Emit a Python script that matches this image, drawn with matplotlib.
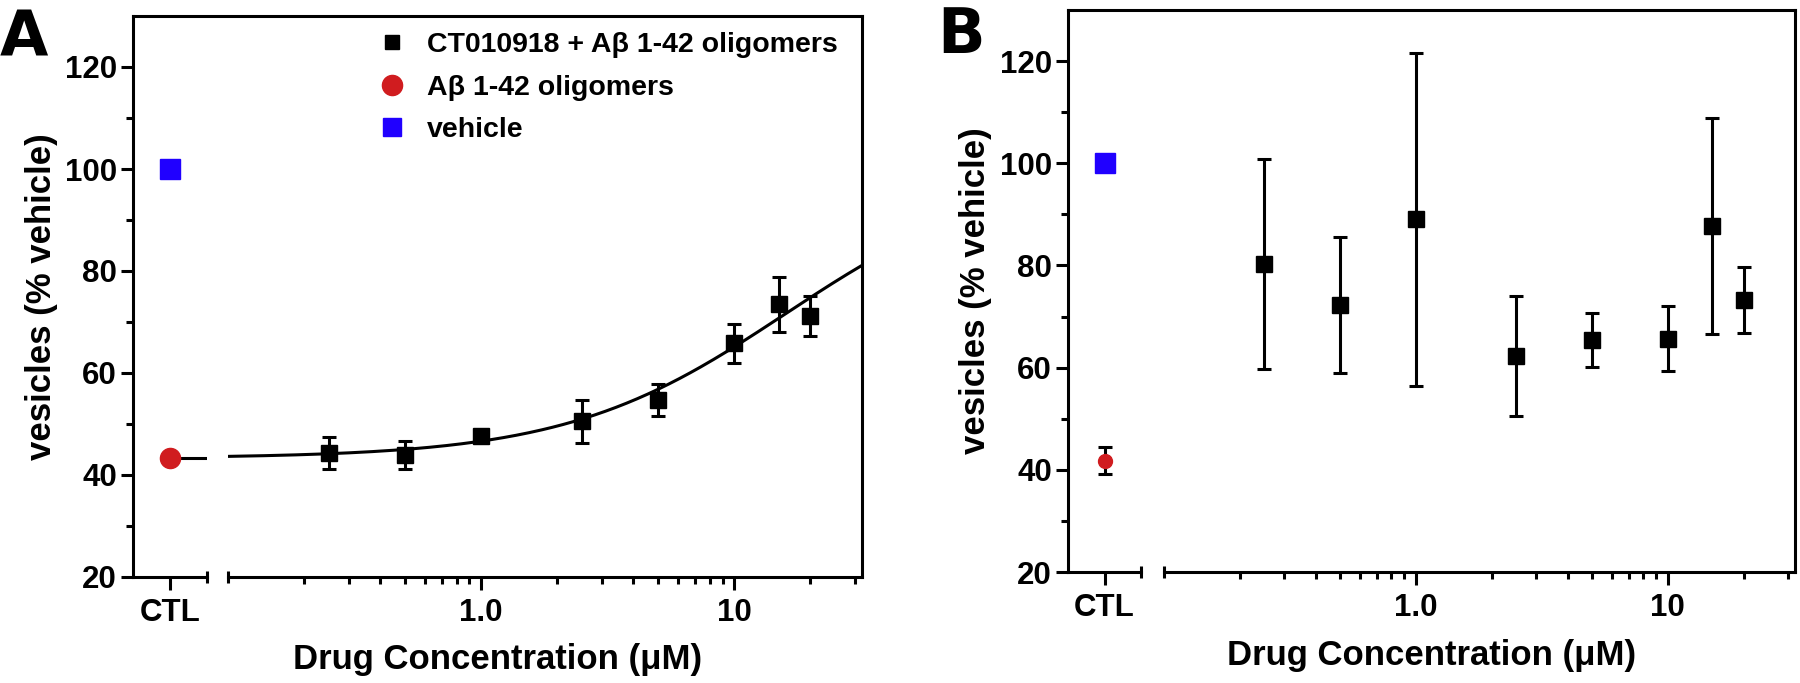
import matplotlib
matplotlib.use('Agg')
import matplotlib.pyplot as plt
from matplotlib.lines import Line2D
from matplotlib.ticker import FixedLocator, NullFormatter
import numpy as np

plt.rcParams['font.family'] = ['Liberation Sans', 'DejaVu Sans']
plt.rcParams['font.weight'] = 'bold'

W, H = 1800, 683

# ── data ────────────────────────────────────────────────────────────────────
conc = [0.25, 0.5, 1.0, 2.5, 5, 10, 15, 20]          # µM

a_mean = [44.3, 43.9, 47.6, 50.5, 54.7, 65.8, 73.5, 71.2]
a_err = [3.2, 2.7, 1.1, 4.3, 3.2, 3.8, 5.4, 3.9]
a_oligo = 43.3
a_vehicle = 100.0

b_mean = [80.3, 72.3, 89.0, 62.3, 65.4, 65.7, 87.7, 73.2]
b_err = [20.5, 13.3, 32.5, 11.7, 5.3, 6.4, 21.2, 6.5]
b_oligo, b_oligo_err = 41.8, 2.7
b_vehicle = 100.0

# sigmoidal dose-response fit drawn in panel A
fit_bottom, fit_top, fit_ec50, fit_hill = 43.3, 100.0, 16.0, 1.0

legend_labels = ['CT010918 + Aβ 1-42 oligomers', 'Aβ 1-42 oligomers', 'vehicle']
RED = '#d01c1f'
BLUE = '#2000ff'
LW = 2.2


def make_panel(fig, left, right, top, bottom, ctl_w, gap):
    """Broken x axis: small CTL segment + log segment, shared y frame."""
    fl, fb = left / W, 1 - bottom / H
    fw, fh = (right - left) / W, (bottom - top) / H
    ax_f = fig.add_axes([fl, fb, fw, fh])
    ax_c = fig.add_axes([fl, fb, ctl_w / W, fh], sharey=ax_f)
    ax_l = fig.add_axes([(left + ctl_w + gap) / W, fb,
                         (right - left - ctl_w - gap) / W, fh], sharey=ax_f)

    # frame axes: y axis + left/top/right spines
    ax_f.set_facecolor('none')
    ax_f.set_xticks([])
    ax_f.spines['bottom'].set_visible(False)
    for s in ('left', 'top', 'right'):
        ax_f.spines[s].set_linewidth(LW)
    ax_f.set_ylim(20, 130)
    ax_f.yaxis.set_major_locator(FixedLocator([20, 40, 60, 80, 100, 120]))
    ax_f.yaxis.set_minor_locator(FixedLocator([30, 50, 70, 90, 110]))
    ax_f.tick_params(axis='y', which='major', length=9, width=LW, labelsize=22.5, pad=2.5)
    ax_f.tick_params(axis='y', which='minor', length=5, width=LW)
    ax_f.set_ylabel('vesicles (% vehicle)', fontsize=25, fontweight='bold', va='center')
    ax_f.yaxis.set_label_coords(-92 / (right - left), 0.5)
    ax_f.set_xlabel('Drug Concentration (μM)', fontsize=25, fontweight='bold', va='center')
    ax_f.xaxis.set_label_coords(0.5, -83 / (bottom - top))

    for ax in (ax_c, ax_l):
        ax.set_facecolor('none')
        for s in ('left', 'top', 'right'):
            ax.spines[s].set_visible(False)
        ax.spines['bottom'].set_linewidth(LW)
        ax.tick_params(axis='y', which='both', left=False, labelleft=False)
        ax.tick_params(axis='x', which='major', length=9, width=LW, labelsize=22.5, pad=6)
        ax.tick_params(axis='x', which='minor', length=5, width=LW)

    ax_c.set_xlim(-1, 1)
    ax_c.set_xticks([0])
    ax_c.set_xticklabels(['CTL'])
    ax_c.plot([1], [0], transform=ax_c.transAxes, marker='|', ms=9, mew=LW,
              color='k', clip_on=False)

    ax_l.set_xscale('log')
    ax_l.set_xlim(0.1, 32)
    ax_l.xaxis.set_major_locator(FixedLocator([1, 10]))
    ax_l.set_xticklabels(['1.0', '10'])
    ax_l.xaxis.set_minor_locator(FixedLocator(
        [0.2, 0.3, 0.4, 0.5, 0.6, 0.7, 0.8, 0.9, 2, 3, 4, 5, 6, 7, 8, 9, 20, 30]))
    ax_l.xaxis.set_minor_formatter(NullFormatter())
    ax_l.plot([0], [0], transform=ax_l.transAxes, marker='|', ms=9, mew=LW,
              color='k', clip_on=False)
    return ax_f, ax_c, ax_l


fig = plt.figure(figsize=(W / 100, H / 100), dpi=100)

# ── Panel A ─────────────────────────────────────────────────────────────────
fa, ca, la = make_panel(fig, 133, 862, 16, 577, 74, 21)

xs = np.logspace(-1, np.log10(32), 300)
ys = fit_bottom + (fit_top - fit_bottom) / (1 + (fit_ec50 / xs) ** fit_hill)
la.plot(xs, ys, color='k', lw=LW, zorder=2)
ca.plot([0, 1], [fit_bottom, fit_bottom], color='k', lw=LW, zorder=2)

la.errorbar(conc, a_mean, yerr=a_err, fmt='s', color='k', ms=12, elinewidth=LW,
            capsize=5, capthick=LW, zorder=3)
ca.plot([0], [a_oligo], 'o', color=RED, ms=14.5, clip_on=False, zorder=3)
ca.plot([0], [a_vehicle], 's', color=BLUE, ms=14, clip_on=False, zorder=3)

handles = [Line2D([], [], marker='s', color='k', ls='none', ms=10.5),
           Line2D([], [], marker='o', color=RED, ls='none', ms=14.5),
           Line2D([], [], marker='s', color=BLUE, ls='none', ms=12.5)]
fa.legend(handles, legend_labels, loc='upper left',
          bbox_to_anchor=(378 / W, 1 - 32 / H), bbox_transform=fig.transFigure,
          frameon=False, handlelength=1.0, handletextpad=0.72,
          labelspacing=0.58, borderpad=0, borderaxespad=0,
          prop={'weight': 'bold', 'size': 20.5})

fig.text(0 / W, 1 - 55 / H, 'A', fontsize=45, fontweight='bold',
         family='DejaVu Sans', va='baseline')

# ── Panel B ─────────────────────────────────────────────────────────────────
fb_, cb, lb = make_panel(fig, 1068, 1795, 10, 572, 73, 23)

lb.errorbar(conc, b_mean, yerr=b_err, fmt='s', color='k', ms=11, elinewidth=LW,
            capsize=5, capthick=LW, zorder=3)
cb.errorbar([0], [b_oligo], yerr=[b_oligo_err], fmt='o', color=RED, ecolor='k',
            ms=10, elinewidth=LW, capsize=5, capthick=LW, clip_on=False, zorder=3)
cb.plot([0], [b_vehicle], 's', color=BLUE, ms=15, clip_on=False, zorder=3)

fig.text(937 / W, 1 - 53 / H, 'B', fontsize=45, fontweight='bold',
         family='DejaVu Sans', va='baseline')

fig.savefig('out.png', dpi=100)
